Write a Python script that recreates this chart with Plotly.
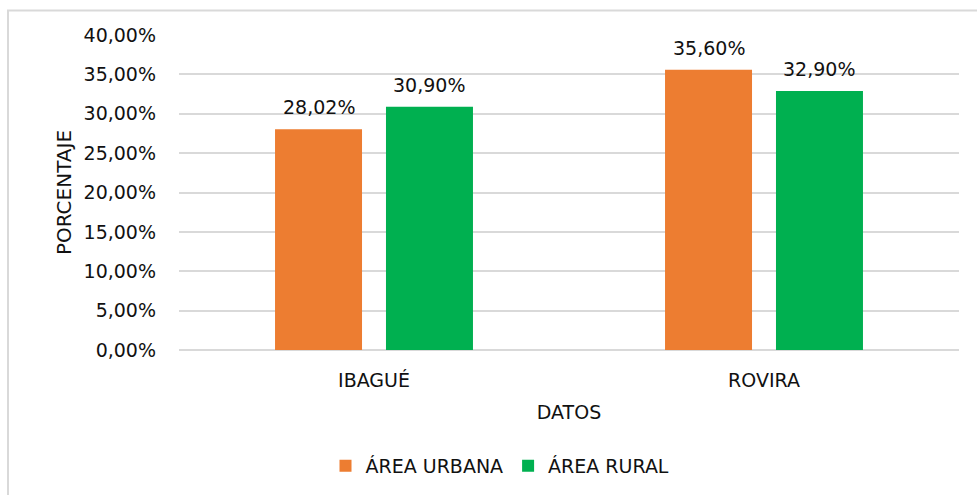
import plotly.graph_objects as go

categories = ["IBAGUÉ", "ROVIRA"]
urbana = [0.2802, 0.3560]
rural = [0.3090, 0.3290]
series_names = ["ÁREA URBANA", "ÁREA RURAL"]
y_ticks = [0, 0.05, 0.10, 0.15, 0.20, 0.25, 0.30, 0.35, 0.40]
colors = ["#ED7D31", "#00B050"]

FONT = "DejaVu Sans"
TEXT = "#111111"
GRID = "#d9d9d9"
FS = 19

W, H = 977, 495
L, R, T, B = 179, 18, 35, 144
pw, ph = W - L - R, H - T - B

def px(xp):
    return (xp - L) / pw

def py(yp):
    return (H - B - yp) / ph

BARGAP, GROUPGAP = 0.431, 0.216
slot = (1 - BARGAP) * (pw / len(categories)) / 2   # pixel width per series slot

fig = go.Figure()
annotations = []
for i, (name, vals) in enumerate(zip(series_names, [urbana, rural])):
    fig.add_trace(go.Bar(
        x=categories, y=vals, name=name,
        marker=dict(color=colors[i], line=dict(width=0)),
    ))
    shift = (i - 0.5) * slot
    for c, v in zip(categories, vals):
        annotations.append(dict(
            x=c, y=v, xref="x", yref="y", text=f"{v * 100:.2f}%".replace(".", ","),
            showarrow=False, xshift=shift, yshift=22, yanchor="middle",
            font=dict(family=FONT, size=FS, color=TEXT),
        ))

fig.update_layout(
    width=W, height=H,
    margin=dict(l=L, r=R, t=T, b=B),
    paper_bgcolor="white", plot_bgcolor="white",
    separators=",.",
    barmode="group", bargap=BARGAP, bargroupgap=GROUPGAP,
    font=dict(family=FONT, size=FS, color=TEXT),
    showlegend=True,
    legend=dict(orientation="h", x=px(500), xanchor="center",
                y=py(466), yanchor="middle",
                font=dict(family=FONT, size=FS, color=TEXT),
                itemwidth=30, tracegroupgap=0),
    xaxis=dict(
        showgrid=False, showline=False, ticks="",
        tickfont=dict(family=FONT, size=FS, color=TEXT),
        ticklabelstandoff=17,
        title=dict(text="DATOS", font=dict(family=FONT, size=FS, color=TEXT),
                   standoff=15),
    ),
    yaxis=dict(
        range=[0, 0.40], tickvals=y_ticks, tickformat=".2%",
        showgrid=True, gridcolor=GRID, gridwidth=1.5,
        zeroline=True, zerolinecolor=GRID, zerolinewidth=1.5,
        showline=False, ticks="",
        tickfont=dict(family=FONT, size=FS, color=TEXT),
        ticklabelstandoff=22,
        title=dict(text="PORCENTAJE", font=dict(family=FONT, size=20, color=TEXT),
                   standoff=6),
    ),
    annotations=annotations,
    shapes=[
        dict(type="rect", xref="paper", yref="paper",
             x0=px(8), x1=px(990), y0=py(520), y1=py(10.5),
             line=dict(color=GRID, width=2), fillcolor="rgba(0,0,0,0)",
             layer="below"),
    ],
)

fig.write_html("out.html")
